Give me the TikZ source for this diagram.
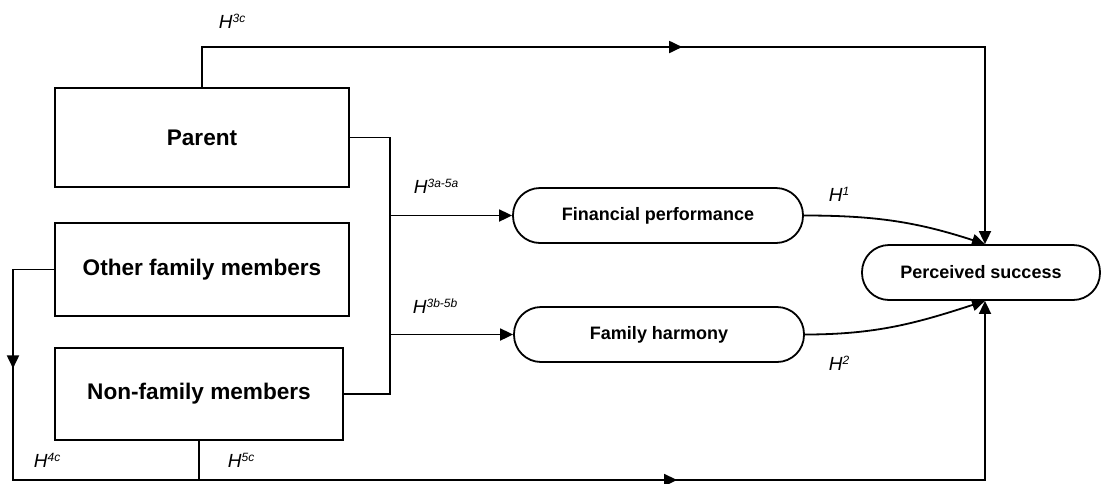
\documentclass[tikz,border=0pt]{standalone}
\usepackage{fontspec}
\setmainfont{Liberation Sans}
\usetikzlibrary{arrows.meta,decorations.markings}
\newcommand{\hyp}[1]{{\fontsize{19}{19}\selectfont\textit{H}\raisebox{5.5pt}{\fontsize{12}{12}\selectfont\textit{#1}}}}
\begin{document}
\begin{tikzpicture}[x=1pt,y=-1pt,
  line width=1.8pt,
  tip/.style={-{Triangle[length=13pt,width=12pt]}},
  boxnode/.style={draw,rectangle,inner sep=0pt,font=\fontsize{22.6}{22.6}\selectfont\bfseries},
  ovalnode/.style={draw,rectangle,rounded corners=27pt,inner sep=0pt,minimum height=55pt,font=\fontsize{18}{18}\selectfont\bfseries},
  lbl/.style={anchor=base west,inner sep=0pt},
  midarrow/.style={postaction={decorate},decoration={markings,mark=at position #1 with {\arrow{Triangle[length=13pt,width=12pt]}}}}
]
\useasboundingbox (0,0) rectangle (1101,483);
\node[boxnode,minimum width=294pt,minimum height=99pt] (P) at (202,137.5) {Parent};
\node[boxnode,minimum width=294pt,minimum height=93pt] (OF) at (202,269.5) {Other family members};
\node[boxnode,minimum width=288pt,minimum height=92pt] (NF) at (199,394) {Non-family members};
\node[ovalnode,minimum width=290pt] (FP) at (658,215.5) {Financial performance};
\node[ovalnode,minimum width=290pt] (FH) at (659,334.5) {Family harmony};
\node[ovalnode,minimum width=238pt] (PS) at (981,272.5) {Perceived success};

\coordinate (topleft) at (202,47);
\coordinate (bus1) at (390,215.5);
\coordinate (bus2) at (390,334.5);
\coordinate (leftc) at (13,480);
\coordinate (botc) at (199,480);
\coordinate (pst) at ([xshift=4pt]PS.north);
\coordinate (psb) at ([xshift=4pt]PS.south);

% H3c
\draw[tip,midarrow=0.51] (P.north) -- (topleft) -| (pst);
% bus
\draw (P.east) -| (bus1) -- (bus2) |- (NF.east);
\draw[tip] (bus1) -- (FP.west);
\draw[tip] (bus2) -- (FH.west);
% H1, H2
\draw[tip] (FP.east) to[out=0,in=162] (pst);
\draw[tip] (FH.east) to[out=0,in=198] (psb);
% H4c
\draw[midarrow=0.32] (OF.west) -| (leftc) -- (botc);
% H5c
\draw[tip,midarrow=0.515] (NF.south) -- (botc) -| (psb);

\node[lbl] (l3c) at (218,28) {\hyp{3c}};
\node[lbl] (l3a) at (413,193) {\hyp{3a-5a}};
\node[lbl] (l3b) at (412,313) {\hyp{3b-5b}};
\node[lbl] (l1) at (828,201) {\hyp{1}};
\node[lbl] (l2) at (828,370) {\hyp{2}};
\node[lbl] (l4c) at (33,467) {\hyp{4c}};
\node[lbl] (l5c) at (227,467) {\hyp{5c}};
\end{tikzpicture}
\end{document}
